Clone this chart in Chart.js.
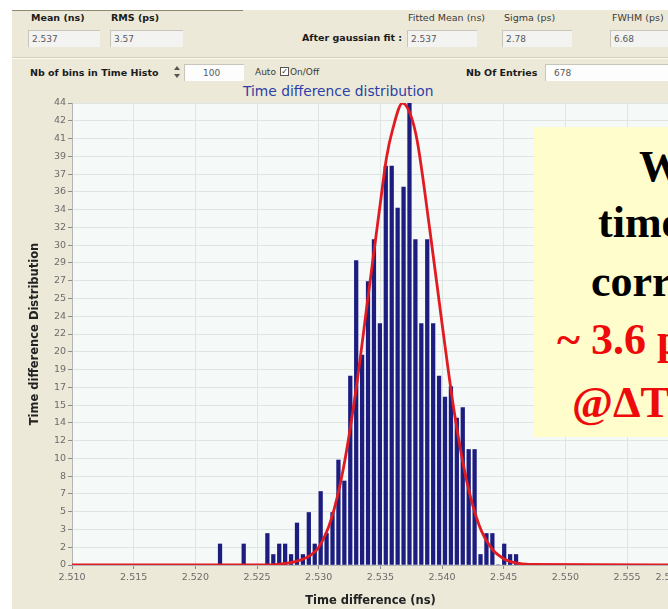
<!DOCTYPE html>
<html>
<head>
<meta charset="utf-8">
<script src="https://cdn.jsdelivr.net/npm/chart.js@4.4.1/dist/chart.umd.min.js"></script>
<style>
  html, body { margin: 0; padding: 0; }
  body { width: 668px; height: 609px; overflow: hidden; position: relative; background: #fff;
         font-family: "DejaVu Sans", sans-serif; }
  .abs { position: absolute; white-space: nowrap; }
  #panel { left: 12px; top: 10px; width: 720px; height: 620px; background: #ECE9D8; }
  #groupTop { left: 12px; top: 10px; width: 231px; height: 1px; background: #8d8a72; }
  #sep { left: 12px; top: 57px; width: 720px; height: 1px; background: #d3d0bb; border-bottom: 1px solid #fbfaf4; }
  .lbl { font-size: 9.5px; font-weight: bold; color: #1b1b1b; line-height: 11px; }
  .lbl.thin { font-weight: normal; color: #3a3a3a; }
  .box { height: 17px; background: #f3f3f1; border-top: 1px solid #c8c6bb; border-left: 1px solid #c8c6bb;
         font-size: 9px; color: #5a5a5a; line-height: 17px; padding-left: 3px; box-sizing: border-box; }
  .box.white { background: #fdfdfd; }
  #title { left: 243px; top: 83px; font-size: 13.8px; color: #2d3fa6; }
  #chart { left: 0; top: 84px; }
  #note { left: 534px; top: 127px; width: 220px; height: 310px; background: #fefdcb; }
  .big { font-family: "Liberation Serif", serif; font-weight: bold; font-size: 44px; line-height: 44px; color: #000; }
  .big.red { color: #ee0a0a; }
  .tri { width: 0; height: 0; border-left: 3px solid transparent; border-right: 3px solid transparent; }
</style>
</head>
<body>
<div class="abs" id="panel"></div>
<div class="abs" id="groupTop"></div>
<div class="abs" id="sep"></div>

<div class="abs lbl" style="left:31px; top:12px;">Mean (ns)</div>
<div class="abs lbl" style="left:111px; top:12px;">RMS (ps)</div>
<div class="abs box" style="left:28px; top:30px; width:72px;">2.537</div>
<div class="abs box" style="left:110px; top:30px; width:73px;">3.57</div>

<div class="abs lbl" style="left:302px; top:32px;">After gaussian fit :</div>
<div class="abs lbl thin" style="left:408px; top:12px;">Fitted Mean (ns)</div>
<div class="abs lbl thin" style="left:504px; top:12px;">Sigma (ps)</div>
<div class="abs lbl thin" style="left:612px; top:12px;">FWHM (ps)</div>
<div class="abs box" style="left:407px; top:30px; width:70px;">2.537</div>
<div class="abs box" style="left:502px; top:30px; width:70px;">2.78</div>
<div class="abs box" style="left:610px; top:30px; width:80px;">6.68</div>

<div class="abs lbl" style="left:30px; top:67px;">Nb of bins in Time Histo</div>
<div class="abs tri" style="left:174px; top:66px; border-bottom:4px solid #555;"></div>
<div class="abs tri" style="left:174px; top:74px; border-top:4px solid #555;"></div>
<div class="abs box white" style="left:184px; top:64px; width:60px; padding-left:18px;">100</div>
<div class="abs lbl thin" style="left:255px; top:67px; font-size:9px;">Auto</div>
<div class="abs" style="left:280px; top:67px; width:7px; height:7px; border:1px solid #555; background:#fff;
     font-size:8px; line-height:7px; text-align:center; color:#222;">✓</div>
<div class="abs lbl thin" style="left:290px; top:67px; font-size:9px;">On/Off</div>
<div class="abs lbl" style="left:466px; top:67px;">Nb Of Entries</div>
<div class="abs box white" style="left:545px; top:64px; width:160px; padding-left:8px;">678</div>

<div class="abs" id="title">Time difference distribution</div>

<canvas class="abs" id="chart" width="720" height="525"></canvas>

<div class="abs" id="note"></div>
<div class="abs big" style="left:639px; top:145px;">With</div>
<div class="abs big" style="left:598px; top:201px;">time walk</div>
<div class="abs big" style="left:591px; top:260px;">correction</div>
<div class="abs big red" style="left:557px; top:318px;">~ 3.6 ps</div>
<div class="abs big red" style="left:572px; top:381px;">@ΔT</div>

<script>
// histogram: 100 bins of 0.48 ps starting at 2.510 ns; only the filled range is listed
const binWidth = 0.00048;
const firstBinCenter = 2.5220;
const counts = [
  2, 0, 0, 0, 2, 0, 0, 0, 3, 1, 2, 2, 1, 4, 1, 5, 2, 7, 3, 5,
  10, 8, 18, 29, 20, 27, 31, 23, 38, 38, 34, 36, 44, 31, 23, 31, 23, 18, 16, 17,
  14, 15, 11, 11, 1, 3, 3, 0, 2, 1, 1
];

// gaussian fit curve, sampled along the drawn line
const fitX = [2.5100, 2.5260, 2.5270, 2.5280, 2.5290, 2.5300, 2.5310, 2.5320, 2.5330, 2.5340,
              2.5350, 2.5355, 2.5360, 2.5368, 2.5375, 2.5380, 2.5390, 2.5400, 2.5410, 2.5420,
              2.5430, 2.5440, 2.5450, 2.5460, 2.5470, 2.5584];
const fitY = [0, 0, 0.1, 0.3, 0.7, 1.7, 4.3, 9.2, 16.5, 25.5,
              34.5, 38.8, 41.5, 44.0, 42.7, 40.3, 32.0, 23.0, 14.5, 8.0,
              3.8, 1.6, 0.6, 0.2, 0.05, 0];

const xMin = 2.510, xMax = 2.5584;
const xTickValues = [2.510, 2.515, 2.520, 2.525, 2.530, 2.535, 2.540, 2.545, 2.550, 2.555, 2.5584];
const xTickLabels = ['2.510', '2.515', '2.520', '2.525', '2.530', '2.535', '2.540', '2.545', '2.550', '2.555', '2.558'];

const yMax = 44;
const yTickLabels = [0, 2, 3, 5, 7, 8, 10, 12, 14, 15, 17, 19, 20, 22, 24, 25, 27, 29, 30, 32, 34, 36, 37, 39, 41, 42, 44];

const barPoints = counts.map((c, i) => ({ x: firstBinCenter + i * binWidth, y: c }));
const fitPoints = fitX.map((x, i) => ({ x, y: fitY[i] }));

const tickFont = { family: 'DejaVu Sans', size: 9.5 };
const titleFont = { family: 'DejaVu Sans', size: 11.5, weight: 'bold' };

// light plot background behind the grid
const plotBg = {
  id: 'plotBg',
  beforeDraw(chart) {
    const { ctx, chartArea: a } = chart;
    ctx.save();
    ctx.fillStyle = '#f5f9f7';
    ctx.fillRect(a.left, a.top, a.right - a.left, a.bottom - a.top);
    ctx.restore();
  }
};

new Chart(document.getElementById('chart').getContext('2d'), {
  type: 'bar',
  data: {
    datasets: [
      {
        type: 'line',
        data: fitPoints,
        borderColor: '#e11b22',
        borderWidth: 2.8,
        pointRadius: 0,
        cubicInterpolationMode: 'monotone',
        order: 0
      },
      {
        type: 'bar',
        data: barPoints,
        backgroundColor: '#1d1d80',
        barThickness: 3.6,
        order: 1
      }
    ]
  },
  options: {
    responsive: false,
    animation: false,
    devicePixelRatio: 1,
    layout: { padding: { top: 19, right: 51, left: 0, bottom: 0 } },
    plugins: { legend: { display: false }, tooltip: { enabled: false } },
    scales: {
      x: {
        type: 'linear',
        min: xMin,
        max: xMax,
        offset: false,
        afterBuildTicks: s => { s.ticks = xTickValues.map(v => ({ value: v })); },
        afterFit: s => { s.height = 44; },
        ticks: {
          callback: (v, i) => xTickLabels[i],
          font: tickFont, color: '#6b6b6b', padding: 3, maxRotation: 0, autoSkip: false
        },
        grid: { color: '#dfe5e2', tickColor: '#8c8c8c', tickLength: 4, offset: false },
        border: { color: '#b5b5b5' },
        title: { display: true, text: 'Time difference (ns)', font: titleFont, color: '#222',
                 padding: { top: 0, bottom: 1 } }
      },
      y: {
        min: 0,
        max: yMax,
        afterBuildTicks: s => {
          s.ticks = yTickLabels.map((_, i) => ({ value: i * yMax / (yTickLabels.length - 1) }));
        },
        afterFit: s => { s.width = 72; },
        ticks: {
          callback: (v, i) => yTickLabels[i],
          font: tickFont, color: '#6b6b6b', padding: 2, autoSkip: false
        },
        grid: { color: '#dfe5e2', tickColor: '#8c8c8c', tickLength: 4 },
        border: { color: '#b5b5b5' },
        title: { display: true, text: 'Time difference Distribution', font: titleFont, color: '#222',
                 padding: { top: 28, bottom: 0 } }
      }
    }
  },
  plugins: [plotBg]
});
</script>
</body>
</html>
